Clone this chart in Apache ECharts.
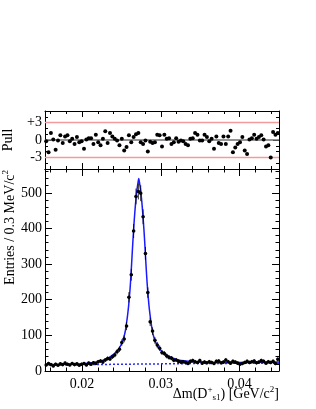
<!DOCTYPE html>
<html><head><meta charset="utf-8">
<script src="https://cdn.jsdelivr.net/npm/echarts@6/dist/echarts.min.js"></script>
<style>html,body{margin:0;padding:0;background:#fff}#c{width:316px;height:409px}</style>
</head><body><div id="c"></div>
<script>
// ---- data ----
const binLow = 0.0153, binHigh = 0.0450, binWidth = 0.0003;
const entries = [17,21,18,14,19,16,20,18,22,19,
  17,21,18,20,16,19,21,17,22,19,
  23,21,26,28,25,31,35,34,40,45,
  54,61,80,90,126,207,270,393,490,504,
  499,433,330,220,138,112,86,73,64,52,
  49,42,38,36,30,31,27,25,26,24,
  21,27,29,26,24,29,22,25,23,26,
  24,21,27,28,23,25,31,26,22,27,
  25,22,19,21,24,27,24,26,28,23,
  25,29,27,22,26,24,27,21,33];
const pulls = [-0.2,-2.1,1.2,0.1,-1.7,-0.1,0.8,-0.5,0.6,0.8,
  -0.2,0.2,-0.7,0.5,-0.4,-0.2,-1.5,0.1,0.3,0.3,
  -0.7,0.9,-0.4,-0.9,0.2,1.5,-0.5,1.2,0.6,0.2,
  -0.1,-0.9,0.2,-1.8,-1.2,0.8,-0.4,0.5,1.0,1.2,
  -0.4,-0.7,-0.1,-2.0,-0.3,-0.5,-0.4,0.9,0.8,-1.1,
  0.9,0.2,0.3,-0.7,-0.4,0.3,-0.3,-0.1,-0.2,-0.7,
  -0.9,0.2,0.3,1.2,0.9,-0.1,-0.1,0.9,0.5,-0.2,
  0.2,-1.5,0.6,-0.5,-0.7,0.6,-0.7,0.6,1.6,-2.1,
  -1.3,-0.7,-0.4,0.5,-1.8,-2.4,0.1,0.3,0.9,0.2,
  0.5,0.8,0.1,-1.1,-0.9,-3.0,1.4,0.9,1.2];
const fitX = [0.0153,0.0170,0.0185,0.0202,0.0212,0.0222,0.0227,0.0232,0.0237,0.0242,0.0245,0.0248,0.0251,0.0253,0.0255,0.0257,0.0258,0.0259,0.0260,0.0261,0.0262,0.0263,0.0264,0.0265,0.0266,0.0267,0.0268,0.0269,0.0270,0.0271,0.0272,
  0.0273,0.0274,0.0275,0.0276,0.0277,0.0278,0.0279,0.0280,0.0281,0.0282,0.0283,0.0284,0.0285,0.0286,0.0287,0.0289,0.0291,0.0293,0.0296,0.0299,0.0302,0.0307,0.0312,0.0317,0.0322,0.0332,0.0342,0.0360,0.0400,0.0450];
const fitY = [18,18.5,19,20.5,23,27,30,35,42,50,57,67,80,94,113,143,160,180,205,232,265,303,343,380,415,445,472,495,513,528,540,
  528,513,495,472,445,415,382,345,305,268,235,208,183,163,146,115,96,83,70,61,54,46,39,35,31,28,26,24,24,25];
const bkgX = [0.0153,0.0200,0.0250,0.0300,0.0350,0.0400,0.0450];
const bkgY = [16.5,17.5,19,20,21,21.5,22];
const xMajor = [0.02,0.03,0.04];
const xMinor = [0.016,0.018,0.022,0.024,0.026,0.028,0.032,0.034,0.036,0.038,0.042,0.044];
const yMajor = [0,100,200,300,400,500];
const yMinor = [20,40,60,80,120,140,160,180,220,240,260,280,320,340,360,380,420,440,460,480,520,540,560];
const pullMajor = [-3,0,3];
const pullMinor = [-5,-4,-2,-1,1,2,4,5];
const yMax = 567, pullMin = -5, pullMax = 5;

// ---- chart ----
const FONT = 'Liberation Serif';
const centers = entries.map((_, i) => binLow + (i + 0.5) * binWidth);
const histData = entries.map((v, i) => [centers[i], v]);
const pullData = pulls.map((v, i) => [centers[i], v]);
const fitData = fitX.map((x, i) => [x, fitY[i]]);
const bkgData = bkgX.map((x, i) => [x, bkgY[i]]);

function ax(grid, pos, vals, len, opts) {
  const o = Object.assign({
    type: 'value', gridIndex: grid, position: pos,
    axisLine: { show: false, onZero: false, lineStyle: { color: '#000', width: 1 } },
    axisTick: { show: true, inside: true, length: len, customValues: vals, lineStyle: { color: '#000', width: 1 } },
    axisLabel: { show: false },
    splitLine: { show: false }
  }, opts || {});
  return o;
}
const xr = { min: binLow, max: binHigh };
const xAxis = [
  ax(0, 'bottom', xMajor, 6, Object.assign({ axisLine: { show: true, onZero: false, lineStyle: { color: '#000' } } }, xr)),
  ax(0, 'bottom', xMinor, 3, xr),
  ax(0, 'top', xMajor, 6, Object.assign({ axisLine: { show: true, onZero: false, lineStyle: { color: '#000' } } }, xr)),
  ax(0, 'top', xMinor, 3, xr),
  ax(1, 'bottom', xMajor, 7, Object.assign({
    axisLine: { show: true, onZero: false, lineStyle: { color: '#000' } },
    axisLabel: { show: true, customValues: xMajor, formatter: v => v.toFixed(2), fontFamily: FONT, fontSize: 14, color: '#000', margin: 6 }
  }, xr)),
  ax(1, 'bottom', xMinor, 3.5, xr),
  ax(1, 'top', xMajor, 7, Object.assign({ axisLine: { show: true, onZero: false, lineStyle: { color: '#000' } } }, xr)),
  ax(1, 'top', xMinor, 3.5, xr)
];
const pr = { min: pullMin, max: pullMax };
const mr = { min: 0, max: yMax };
const yAxis = [
  ax(0, 'left', pullMajor, 6, Object.assign({
    axisLine: { show: true, onZero: false, lineStyle: { color: '#000' } },
    axisLabel: { show: true, customValues: pullMajor, formatter: v => v > 0 ? '+' + v : String(v), fontFamily: FONT, fontSize: 14, color: '#000', margin: 3 }
  }, pr)),
  ax(0, 'left', pullMinor, 3, pr),
  ax(0, 'right', pullMajor, 6, Object.assign({ axisLine: { show: true, onZero: false, lineStyle: { color: '#000' } } }, pr)),
  ax(0, 'right', pullMinor, 3, pr),
  ax(1, 'left', yMajor, 7, Object.assign({
    axisLine: { show: true, onZero: false, lineStyle: { color: '#000' } },
    axisLabel: { show: true, customValues: yMajor, fontFamily: FONT, fontSize: 14, color: '#000', margin: 3 }
  }, mr)),
  ax(1, 'left', yMinor, 3.5, mr),
  ax(1, 'right', yMajor, 7, Object.assign({ axisLine: { show: true, onZero: false, lineStyle: { color: '#000' } } }, mr)),
  ax(1, 'right', yMinor, 3.5, mr)
];

const chart = echarts.init(document.getElementById('c'), null, { renderer: 'canvas' });
const rich = {
  sp: { fontFamily: FONT, fontSize: 9, color: '#000', padding: [0, 0, 9, 0] },
  sb: { fontFamily: FONT, fontSize: 9, color: '#000', padding: [7, 0, 0, 0] }
};
chart.setOption({
  animation: false,
  backgroundColor: '#fff',
  grid: [
    { left: 45, top: 111, width: 234, height: 58 },
    { left: 45, top: 169, width: 234, height: 202 }
  ],
  xAxis, yAxis,
  series: [
    {
      type: 'scatter', xAxisIndex: 0, yAxisIndex: 0, data: pullData,
      symbol: 'circle', symbolSize: 4, itemStyle: { color: '#000', opacity: 1 }, z: 5,
      markLine: {
        silent: true, symbol: 'none', label: { show: false },
        data: [
          { yAxis: 3, lineStyle: { color: '#f39a9a', width: 1.3, type: 'solid' } },
          { yAxis: -3, lineStyle: { color: '#f39a9a', width: 1.3, type: 'solid' } },
          { yAxis: 0, lineStyle: { color: '#707070', width: 1.6, type: 'solid' } }
        ]
      }
    },
    {
      type: 'line', xAxisIndex: 4, yAxisIndex: 4, data: bkgData, showSymbol: false,
      lineStyle: { color: '#2a2aff', width: 1.5, type: [2, 2] }, z: 2
    },
    {
      type: 'line', xAxisIndex: 4, yAxisIndex: 4, data: fitData, showSymbol: false, smooth: 0.2,
      lineStyle: { color: '#1a1aff', width: 1.5 }, z: 3
    },
    {
      type: 'custom', xAxisIndex: 4, yAxisIndex: 4, data: histData, z: 4,
      renderItem: function (params, api) {
        const x = api.value(0), y = api.value(1), e = Math.sqrt(y);
        const p = api.coord([x, y]);
        const t = api.coord([x, y + e]);
        const b = api.coord([x, Math.max(y - e, 0)]);
        const l = api.coord([x - binWidth / 2, y]);
        const r = api.coord([x + binWidth / 2, y]);
        return {
          type: 'group', children: [
            { type: 'line', shape: { x1: p[0], y1: t[1], x2: p[0], y2: b[1] }, style: { stroke: '#000', lineWidth: 0.8 } },
            { type: 'line', shape: { x1: l[0], y1: p[1], x2: r[0], y2: p[1] }, style: { stroke: '#000', lineWidth: 0.8 } },
            { type: 'circle', shape: { cx: p[0], cy: p[1], r: 1.8 }, style: { fill: '#000' } }
          ]
        };
      }
    }
  ],
  graphic: [
    {
      type: 'text', x: 8, y: 140, rotation: Math.PI / 2,
      style: { text: 'Pull', font: '14px "Liberation Serif"', fill: '#000', align: 'center', verticalAlign: 'middle' }
    },
    {
      type: 'text', x: 10, y: 170, rotation: Math.PI / 2,
      style: { text: 'Entries / 0.3 MeV/c{sp|2}', fontFamily: FONT, fontSize: 14, fill: '#000', align: 'right', verticalAlign: 'middle', rich }
    },
    {
      type: 'text', x: 279, y: 394,
      style: { text: 'Δm(D{sp|+}{sb|s1}) [GeV/c{sp|2}]', fontFamily: FONT, fontSize: 14, fill: '#000', align: 'right', verticalAlign: 'middle', rich }
    }
  ]
});
</script></body></html>
